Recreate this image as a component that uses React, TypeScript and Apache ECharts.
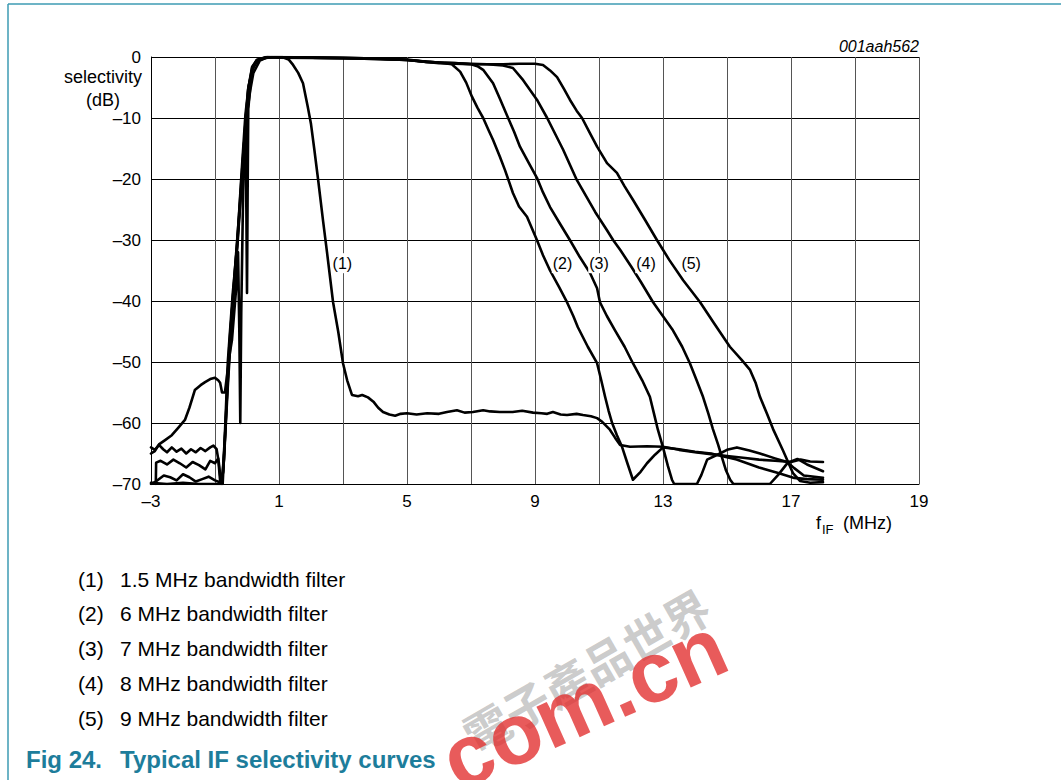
import React, { useEffect, useRef } from 'react';
import * as echarts from 'echarts';

// x axis is drawn on a shifted scale (u = f + 3) so ticks start at -3 MHz
const X_OFFSET = 3;
const xTickLabels = ['\u20133', '1', '5', '9', '13', '17', '19'];
const yMin = -70;
const yMax = 0;

// [frequency MHz, selectivity dB]
const curve1: [number, number][] = [
  [-3, -64.0], [-2.88, -64.4], [-2.75, -63.6], [-2.62, -64.3], [-2.5, -64.8], [-2.35, -64.0], [-2.2, -64.7],
  [-2.05, -64.2], [-1.9, -65.0], [-1.75, -64.3], [-1.6, -64.8], [-1.45, -64.1], [-1.3, -64.6], [-1.15, -64.0],
  [-1.05, -63.7], [-0.95, -64.3], [-0.88, -66.5], [-0.82, -69.5], [-0.74, -68], [-0.62, -55], [-0.5, -44],
  [-0.38, -35], [-0.25, -26], [-0.12, -16], [-0.02, -10], [0.1, -5.5], [0.2, -2.6], [0.4, -0.6], [0.6, -0.15],
  [0.8, 0], [1.1, 0], [1.3, -0.4], [1.44, -1.3], [1.6, -2.6], [1.75, -4.3], [1.9, -8.2], [2.0, -11], [2.1, -15],
  [2.22, -20], [2.38, -27], [2.5, -32], [2.69, -40.2], [2.85, -45], [3.0, -50.2], [3.13, -53], [3.28, -55.4],
  [3.47, -55.6], [3.6, -55.4], [3.78, -55.8], [3.95, -56.5], [4.1, -57.5], [4.25, -58.2], [4.45, -58.6],
  [4.63, -58.8], [4.8, -58.5], [5.0, -58.4], [5.3, -58.6], [5.63, -58.4], [6.0, -58.5], [6.25, -58.2],
  [6.56, -57.9], [6.8, -58.3], [7.06, -58.2], [7.38, -57.9], [7.6, -58.1], [7.9, -58.2], [8.3, -58.2],
  [8.6, -58.0], [8.94, -58.3], [9.2, -58.4], [9.38, -58.5], [9.56, -58.2], [9.8, -58.6], [10.0, -58.7],
  [10.3, -58.5], [10.5, -58.7], [10.75, -58.9], [10.94, -59.2], [11.1, -59.8], [11.34, -61.1], [11.5, -62.4],
  [11.66, -63.6], [11.97, -63.9], [12.5, -63.8], [13.0, -63.9], [13.5, -64.4], [14.0, -64.8], [14.5, -65.1],
  [15.0, -65.4], [15.5, -65.7], [16.0, -66.0], [16.5, -66.2], [17.0, -66.4], [17.3, -66.0], [17.6, -66.3],
  [18.0, -66.4],
];

const curve2: [number, number][] = [
  [-3, -65.0], [-2.88, -64.6], [-2.75, -63.5], [-2.56, -62.8], [-2.35, -62.0], [-2.15, -60.8], [-1.94, -59.5],
  [-1.8, -57.5], [-1.63, -54.6], [-1.45, -53.8], [-1.31, -53.3], [-1.15, -52.8], [-1.0, -52.6], [-0.9, -53.0],
  [-0.84, -53.4], [-0.78, -55.0], [-0.69, -55.0], [-0.55, -49], [-0.47, -46.4], [-0.34, -38], [-0.28, -32],
  [-0.24, -45], [-0.21, -60], [-0.18, -42], [-0.12, -22], [-0.03, -10], [0.03, -5.4], [0.16, -1.6],
  [0.31, -0.5], [0.63, 0], [1, -0.1], [2, -0.15], [3, -0.2], [4, -0.3], [5, -0.5], [5.6, -0.8], [6.0, -0.9],
  [6.4, -1.2], [6.66, -2.4], [6.85, -4.2], [7.03, -6.5], [7.2, -8.3], [7.38, -10], [7.55, -12], [7.69, -13.6],
  [7.9, -16.3], [8.06, -18.5], [8.31, -22.3], [8.5, -24.5], [8.75, -26.2], [9.06, -30], [9.25, -32.5],
  [9.47, -35], [9.75, -37.7], [10.0, -40.2], [10.2, -42.5], [10.34, -44.3], [10.65, -47.5], [10.94, -50.2],
  [11.07, -53], [11.19, -55.7], [11.3, -58], [11.41, -60], [11.56, -62], [11.72, -63.9], [11.9, -66.8],
  [12.06, -69.3], [12.3, -68], [12.5, -66.6], [12.75, -65.2], [13, -64.0], [13.5, -64.3], [14.0, -64.7],
  [14.5, -65.0], [15.0, -65.6], [15.3, -66.0], [16.0, -67.3], [16.6, -68.2], [17.1, -69.0], [17.5, -69.2],
  [18, -69.3],
];

const curve3: [number, number][] = [
  [-2.85, -70], [-2.84, -66.5], [-2.7, -66.2], [-2.5, -66.8], [-2.3, -66.0], [-2.1, -66.6], [-1.9, -67.3],
  [-1.7, -66.4], [-1.5, -66.9], [-1.3, -67.6], [-1.15, -66.2], [-1.0, -66.6], [-0.9, -65.8], [-0.84, -69.5],
  [-0.78, -70], [-0.7, -63], [-0.6, -50], [-0.45, -39], [-0.31, -31], [-0.16, -20], [-0.05, -11], [-0.02, -25],
  [0.0, -38.7], [0.02, -22], [0.04, -8.5], [0.1, -5], [0.16, -2.2], [0.31, -0.6], [0.63, -0.1], [1, 0],
  [2, -0.1], [3, -0.15], [4, -0.25], [5, -0.4], [5.6, -0.8], [6, -0.9], [6.5, -1.0], [7.0, -1.2], [7.2, -1.5],
  [7.38, -2.1], [7.69, -4.3], [7.9, -6.8], [8.16, -10], [8.35, -12.3], [8.53, -14.7], [8.8, -17.3],
  [9.06, -19.8], [9.25, -22.2], [9.47, -24.6], [9.8, -27.5], [10.09, -30], [10.4, -32.8], [10.72, -35.4],
  [10.94, -37.9], [11.03, -40.2], [11.25, -42.5], [11.5, -44.8], [11.8, -47.5], [12.06, -50.2], [12.35, -53],
  [12.59, -55.7], [12.72, -58.5], [12.84, -61.1], [13.0, -64], [13.15, -67], [13.28, -69.3], [13.35, -70],
  [14.06, -70], [14.2, -68.5], [14.38, -66], [14.78, -65], [15.0, -64.4], [15.31, -64.0], [15.7, -64.5],
  [16.03, -65.0], [16.5, -65.8], [16.88, -66.4], [17.1, -67.4], [17.4, -68.6], [18, -69.0],
];

const curve4: [number, number][] = [
  [-3, -70], [-2.85, -69.6], [-2.6, -68.6], [-2.4, -68.9], [-2.2, -69.4], [-2.0, -68.4], [-1.8, -68.9],
  [-1.6, -69.6], [-1.4, -69.2], [-1.2, -68.8], [-1.0, -69.4], [-0.85, -69.7], [-0.76, -70], [-0.65, -58],
  [-0.55, -47], [-0.4, -37], [-0.3, -30], [-0.17, -19], [-0.05, -9.5], [0.05, -4.8], [0.18, -1.8],
  [0.35, -0.5], [0.65, 0], [1, -0.05], [2, -0.1], [3, -0.15], [4, -0.25], [5, -0.5], [6, -0.9], [7, -1.1],
  [7.5, -1.2], [8.0, -1.4], [8.31, -1.8], [8.63, -3.8], [9.06, -7], [9.38, -10], [9.88, -15.2],
  [10.31, -20.2], [10.88, -25.4], [11.25, -28.4], [11.44, -30], [11.66, -31.6], [12.0, -34.3], [12.3, -36.8],
  [12.69, -40.2], [13.0, -42.5], [13.31, -44.8], [13.6, -47.5], [13.84, -50.2], [14.05, -53], [14.25, -55.7],
  [14.42, -58.5], [14.56, -61], [14.72, -63.5], [14.84, -65.6], [14.97, -67.8], [15.1, -69.3], [15.2, -70],
  [16.34, -70], [16.6, -68.5], [16.9, -66.5], [17.2, -65.9], [17.5, -66.8], [18, -67.9],
];

const curve5: [number, number][] = [
  [-3, -69.8], [-2.5, -70], [-2, -69.8], [-1.5, -70], [-0.8, -70], [-0.72, -66], [-0.6, -54], [-0.45, -41],
  [-0.3, -31], [-0.16, -20], [-0.04, -10], [0.05, -5], [0.16, -1.8], [0.3, -0.5], [0.6, 0], [1, -0.05],
  [2, -0.1], [3, -0.2], [4, -0.3], [5, -0.5], [6, -1.0], [7, -1.2], [8, -1.2], [8.5, -1.1], [9.0, -1.1],
  [9.25, -1.3], [9.47, -2.2], [9.69, -3.3], [9.9, -5.2], [10.09, -7], [10.3, -8.8], [10.47, -10],
  [10.7, -12.3], [10.94, -14.7], [11.25, -17.4], [11.56, -19], [11.8, -21.2], [12.06, -23.4], [12.45, -26.8],
  [12.81, -30], [13.2, -33.3], [13.63, -36.6], [14.16, -40.2], [14.6, -43.7], [15.09, -47.5], [15.45, -49.6],
  [15.72, -51.3], [15.9, -53.5], [16.03, -55.7], [16.25, -58.5], [16.44, -61], [16.75, -64.5], [17.06, -68.2],
  [17.28, -69.5], [17.6, -69.8], [18, -69.7],
];

const curves = [curve1, curve2, curve3, curve4, curve5];
const curveNames = ['(1)', '(2)', '(3)', '(4)', '(5)'];
const curveLabelPos: [number, number][] = [
  [2.98, -33.8], [9.86, -33.8], [11.0, -33.8], [12.47, -33.8], [13.88, -33.8],
];

const legendIds = ['(1)', '(2)', '(3)', '(4)', '(5)'];
const legendTexts = [
  '1.5 MHz bandwidth filter',
  '6 MHz bandwidth filter',
  '7 MHz bandwidth filter',
  '8 MHz bandwidth filter',
  '9 MHz bandwidth filter',
];

const FONT = '"Liberation Sans", Arial, Helvetica, sans-serif';
const TEAL = '#1d7d9b';

function txt(x: number, y: number, text: string, opts: any = {}) {
  const align = opts.align || 'left';
  const va = opts.verticalAlign || 'middle';
  return {
    type: 'text',
    x,
    y,
    z: opts.z || 10,
    rotation: opts.rotation || 0,
    silent: true,
    style: {
      text,
      fill: opts.fill || '#000',
      fontSize: opts.fontSize || 17,
      fontFamily: opts.fontFamily || FONT,
      fontWeight: opts.fontWeight || 'normal',
      fontStyle: opts.fontStyle || 'normal',
      align,
      verticalAlign: va,
      textAlign: align,
      textVerticalAlign: va,
      opacity: opts.opacity == null ? 1 : opts.opacity,
    },
  };
}

export default function App() {
  const ref = useRef<HTMLDivElement>(null);
  useEffect(() => {
    document.body.style.margin = '0';
    const chart = echarts.init(ref.current!, null, { renderer: 'svg' });

    const graphic: any[] = [
      { type: 'line', silent: true, shape: { x1: 8, y1: 4, x2: 1061, y2: 4 }, style: { stroke: '#3c9bb3', lineWidth: 1.5 } },
      { type: 'line', silent: true, shape: { x1: 8, y1: 4, x2: 8, y2: 780 }, style: { stroke: '#3c9bb3', lineWidth: 1.5 } },
      txt(103, 77, 'selectivity', { align: 'center', fontSize: 18 }),
      txt(103, 100, '(dB)', { align: 'center', fontSize: 18 }),
      txt(816, 523, 'f', { fontSize: 18 }),
      txt(822, 529, 'IF', { fontSize: 13 }),
      txt(843, 523, '(MHz)', { fontSize: 18 }),
      txt(919, 46, '001aah562', { align: 'right', fontSize: 16, fontStyle: 'italic' }),
      txt(26, 759, 'Fig 24.', { fontSize: 24, fontWeight: 'bold', fill: TEAL }),
      txt(120, 759, 'Typical IF selectivity curves', { fontSize: 24, fontWeight: 'bold', fill: TEAL }),
    ];
    legendIds.forEach((id, i) => {
      const y = 579 + 34.75 * i;
      graphic.push(txt(78, y, id, { fontSize: 21 }));
      graphic.push(txt(120, y, legendTexts[i], { fontSize: 21 }));
    });
    // watermark
    graphic.push(txt(466, 738, '電子產品世界', {
      fontSize: 46, fontFamily: '"Noto Sans CJK TC", sans-serif', fontWeight: 'bold',
      fill: 'rgba(140,140,140,0.45)', rotation: 0.52, z: 50,
    }));
    graphic.push(txt(446, 764, 'com.cn', {
      fontSize: 86, fontWeight: 'bold', fill: 'rgba(225,45,45,0.78)', rotation: 0.42, z: 50,
    }));

    const option: any = {
      animation: false,
      backgroundColor: '#fff',
      textStyle: { fontFamily: FONT },
      grid: { left: 151, top: 57, width: 768, height: 427, containLabel: false },
      xAxis: {
        type: 'value',
        min: 0,
        max: 24,
        interval: 2,
        axisLine: { show: true, onZero: false, lineStyle: { color: '#000', width: 1 } },
        axisTick: { show: false },
        splitLine: { show: true, lineStyle: { color: '#555', width: 1 } },
        axisLabel: {
          margin: 9,
          fontSize: 17,
          color: '#000',
          fontFamily: FONT,
          formatter: (v: number) => (v % 4 === 0 ? xTickLabels[v / 4] : ''),
        },
      },
      yAxis: {
        type: 'value',
        min: yMin,
        max: yMax,
        interval: 10,
        axisLine: { show: true, onZero: false, lineStyle: { color: '#000', width: 1 } },
        axisTick: { show: false },
        splitLine: { show: true, lineStyle: { color: '#000', width: 1 } },
        axisLabel: {
          margin: 10,
          fontSize: 17,
          color: '#000',
          fontFamily: FONT,
          formatter: (v: number) => (v === 0 ? '0' : '\u2013' + Math.abs(v)),
        },
      },
      series: [
        ...curves.map((c, i) => ({
          name: curveNames[i],
          type: 'line',
          symbol: 'none',
          showSymbol: false,
          silent: true,
          z: 3,
          data: c.map(([f, d]) => [f + X_OFFSET, d]),
          lineStyle: { color: '#000', width: 2.6, cap: 'round', join: 'round' },
        })),
        {
          type: 'scatter',
          z: 5,
          silent: true,
          symbolSize: 1,
          itemStyle: { color: 'transparent' },
          data: curveLabelPos.map((p, i) => ({ value: [p[0] + X_OFFSET, p[1]], name: curveNames[i] })),
          label: {
            show: true,
            position: 'inside',
            formatter: '{b}',
            fontSize: 16,
            color: '#000',
            opacity: 1,
            fontFamily: FONT,
            backgroundColor: '#fff',
            padding: [2, 1],
          },
        },
      ],
      graphic,
    };
    chart.setOption(option);
    return () => chart.dispose();
  }, []);
  return <div ref={ref} style={{ width: 1061, height: 780 }} />;
}
